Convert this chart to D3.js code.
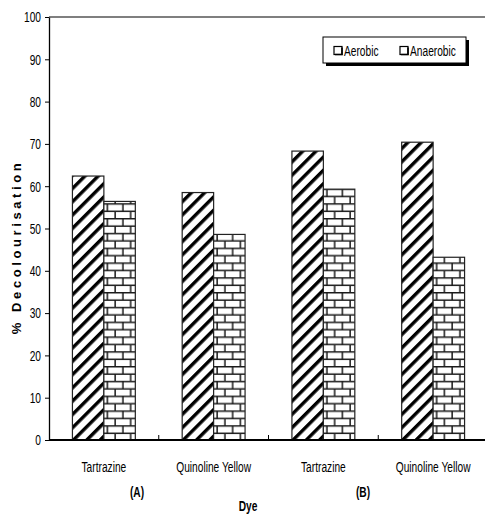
<!DOCTYPE html>
<html>
<head>
<meta charset="utf-8">
<script src="https://d3js.org/d3.v7.min.js"></script>
<style>
    body { margin: 0; background: #fff; overflow: hidden; }
    svg { display: block; }
    text { font-family: "Liberation Sans", Arial, sans-serif; fill: #000; }
</style>
</head>
<body>
<svg id="chart"></svg>
<script>
// data
const categories = ['Tartrazine A', 'Quinoline Yellow A', 'Tartrazine B', 'Quinoline Yellow B'];
const categoryLabels = ['Tartrazine', 'Quinoline Yellow', 'Tartrazine', 'Quinoline Yellow'];
const series = ['Aerobic', 'Anaerobic'];
const aerobic = [62.4, 58.5, 68.3, 70.4];
const anaerobic = [56.4, 48.6, 59.3, 43.2];
const yTicks = [0, 10, 20, 30, 40, 50, 60, 70, 80, 90, 100];
const groupLabels = ['(A)', '(B)'];

const width = 485, height = 514;
const svg = d3.select('#chart').attr('width', width).attr('height', height);

const plotLeft = 49, plotRight = 488, plotTop = 17, plotBottom = 440;
const narrow = 0.68; // the original uses an Arial Narrow-like face

// helper: condensed text at a point
function narrowText(sel, x, y) {
    return sel.attr('transform', `translate(${x},${y}) scale(${narrow},1)`);
}

// patterns
const defs = svg.append('defs');
const hatch = defs.append('pattern')
    .attr('id', 'hatch').attr('patternUnits', 'userSpaceOnUse')
    .attr('width', 9.4).attr('height', 9.4)
    .attr('patternTransform', 'rotate(45)');
hatch.append('rect').attr('width', 9.4).attr('height', 9.4).attr('fill', '#fff');
hatch.append('rect').attr('x', 0).attr('width', 3.4).attr('height', 9.4).attr('fill', '#000');

const bw = 15.5, bh = 7.4;
const brick = defs.append('pattern')
    .attr('id', 'brick').attr('patternUnits', 'userSpaceOnUse')
    .attr('x', 0).attr('y', plotBottom)
    .attr('width', bw).attr('height', bh * 2);
brick.append('rect').attr('width', bw).attr('height', bh * 2).attr('fill', '#fff');
brick.append('path')
    .attr('d', `M0,0.7H${bw} M0,${bh + 0.7}H${bw} M4,0V${bh} M${4 + bw / 2},${bh}V${bh * 2}`)
    .attr('stroke', '#1a1a1a').attr('stroke-width', 1.5).attr('fill', 'none');

const x = d3.scaleBand().domain(categories).range([plotLeft, plotRight]).paddingInner(0.427).paddingOuter(0.2135);
const xs = d3.scaleBand().domain(series).range([0, x.bandwidth()]);
const y = d3.scaleLinear().domain([0, 100]).range([plotBottom, plotTop]);

const fills = { Aerobic: 'url(#hatch)', Anaerobic: 'url(#brick)' };
const rows = categories.map((c, i) => ({ cat: c, Aerobic: aerobic[i], Anaerobic: anaerobic[i] }));

// bars
const g = svg.append('g');
g.selectAll('g.cat').data(rows).enter().append('g')
    .attr('transform', d => `translate(${x(d.cat)},0)`)
    .selectAll('rect').data(d => series.map(s => ({ s, v: d[s] }))).enter().append('rect')
    .attr('x', d => xs(d.s))
    .attr('y', d => y(d.v))
    .attr('width', xs.bandwidth())
    .attr('height', d => y(0) - y(d.v))
    .attr('fill', d => fills[d.s])
    .attr('stroke', '#222').attr('stroke-width', 1.2);

// frame top
svg.append('line').attr('x1', plotLeft).attr('x2', width).attr('y1', plotTop).attr('y2', plotTop)
    .attr('stroke', '#000').attr('stroke-width', 1.2);

// y axis
const yAxis = svg.append('g').attr('transform', `translate(${plotLeft},0)`)
    .call(d3.axisLeft(y).tickValues(yTicks).tickSize(4).tickPadding(4).tickSizeOuter(0));
yAxis.select('.domain').attr('stroke', '#000').attr('stroke-width', 1.3);
yAxis.selectAll('.tick line').attr('stroke', '#000');
yAxis.selectAll('.tick text')
    .attr('font-size', 15)
    .attr('font-family', '"Liberation Sans", Arial, sans-serif')
    .attr('x', 0)
    .attr('transform', `translate(-8,0) scale(${narrow},1)`);

// x baseline and separators
const sepPos = categories.slice(1).map(c => x(c) - x.step() * x.paddingInner() / 2);
svg.append('line').attr('x1', plotLeft).attr('x2', width).attr('y1', plotBottom).attr('y2', plotBottom)
    .attr('stroke', '#000').attr('stroke-width', 2);
svg.selectAll('line.sep').data(sepPos).enter().append('line')
    .attr('x1', d => d).attr('x2', d => d).attr('y1', plotBottom).attr('y2', plotBottom - 5)
    .attr('stroke', '#000').attr('stroke-width', 1);

// category labels
svg.selectAll('text.cat').data(categories).enter().append('text')
    .attr('text-anchor', 'middle')
    .attr('font-size', 15)
    .each(function (d) { narrowText(d3.select(this), x(d) + x.bandwidth() / 2, 472); })
    .text((d, i) => categoryLabels[i]);

svg.selectAll('text.grp').data(groupLabels).enter().append('text')
    .attr('text-anchor', 'middle')
    .attr('font-size', 15).attr('font-weight', 'bold')
    .each(function (d, i) { narrowText(d3.select(this), i === 0 ? 137 : 363, 497); })
    .text(d => d);

narrowText(svg.append('text'), 248, 511)
    .attr('text-anchor', 'middle')
    .attr('font-size', 15).attr('font-weight', 'bold').text('Dye');

// y title
svg.append('text')
    .attr('transform', 'translate(21,247) rotate(-90)')
    .attr('text-anchor', 'middle')
    .attr('font-size', 13).attr('font-weight', 'bold')
    .attr('letter-spacing', 3.6)
    .text('% Decolourisation');

// legend
const lg = svg.append('g').attr('transform', 'translate(323,37)');
lg.append('rect').attr('x', 3).attr('y', 3).attr('width', 143).attr('height', 26).attr('fill', '#000');
lg.append('rect').attr('width', 143).attr('height', 26).attr('fill', '#fff').attr('stroke', '#000').attr('stroke-width', 1);
const items = lg.selectAll('g.item').data(series).enter().append('g')
    .attr('transform', (d, i) => `translate(${i === 0 ? 11 : 77},0)`);
items.append('rect').attr('x', 0).attr('y', 9.5).attr('width', 8).attr('height', 8)
    .attr('fill', '#fff').attr('stroke', '#000').attr('stroke-width', 1.2);
items.append('path').attr('d', 'M1,17.5H8V10.5').attr('stroke', '#000').attr('stroke-width', 1.6).attr('fill', 'none');
items.append('text')
    .attr('font-size', 15)
    .each(function () { narrowText(d3.select(this), 10, 19); })
    .text(d => d);
</script>
</body>
</html>
